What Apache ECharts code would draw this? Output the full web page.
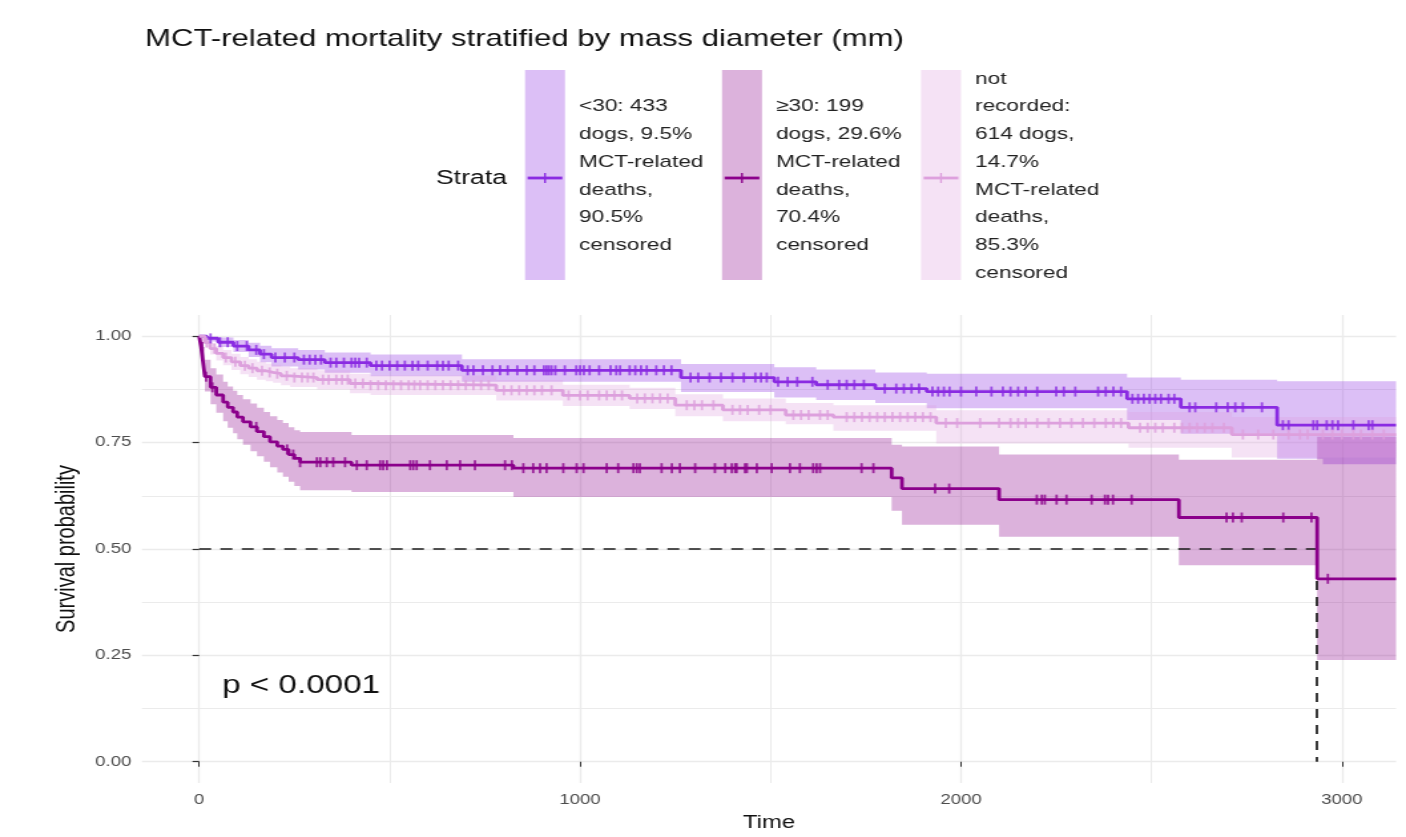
<!DOCTYPE html>
<html>
<head>
<meta charset="utf-8">
<script src="https://cdn.jsdelivr.net/npm/echarts@6/dist/echarts.min.js"></script>
<style>
html,body{margin:0;padding:0;background:#fff;overflow:hidden;}
#wrap{width:1406px;height:837px;overflow:hidden;position:relative;}
#chart{width:1057px;height:837px;transform:scaleX(1.33018);transform-origin:0 0;}
</style>
</head>
<body>
<div id="wrap"><div id="chart"></div></div>
<script>
// ---------------- DATA ----------------
const titleText = 'MCT-related mortality stratified by mass diameter (mm)';
const legendTitle = 'Strata';
const strataLabels = [
  '<30: 433\ndogs, 9.5%\nMCT-related\ndeaths,\n90.5%\ncensored',
  '\u226530: 199\ndogs, 29.6%\nMCT-related\ndeaths,\n70.4%\ncensored',
  'not\nrecorded:\n614 dogs,\n14.7%\nMCT-related\ndeaths,\n85.3%\ncensored'
];
const pValueText = 'p < 0.0001';
const xTitle = 'Time';
const yTitle = 'Survival probability';
const xTicks = [0, 1000, 2000, 3000];
const xMinorTicks = [500, 1500, 2500];
const yTicks = [0, 0.25, 0.5, 0.75, 1];
const yMinorTicks = [0.125, 0.375, 0.625, 0.875];

// <30
const lt30Time  = [0, 20, 50, 90, 130, 160, 190, 260, 330, 450, 690, 1265, 1510, 1620, 1775, 1910, 2436, 2577, 2830, 2950, 3142];
const lt30Surv  = [1.000, 0.995, 0.986, 0.977, 0.968, 0.958, 0.950, 0.945, 0.938, 0.931, 0.920, 0.903, 0.893, 0.886, 0.877, 0.870, 0.853, 0.833, 0.791, 0.791, 0.791];
const lt30Upper = [1.000, 1.000, 0.997, 0.991, 0.985, 0.978, 0.972, 0.968, 0.962, 0.957, 0.946, 0.935, 0.927, 0.922, 0.915, 0.912, 0.903, 0.898, 0.894, 0.894, 0.894];
const lt30Lower = [1.000, 0.988, 0.975, 0.963, 0.951, 0.939, 0.929, 0.922, 0.914, 0.906, 0.893, 0.869, 0.856, 0.850, 0.843, 0.831, 0.803, 0.771, 0.712, 0.699, 0.699];
const lt30Censor = [30, 55, 75, 100, 125, 150, 170, 200, 225, 250, 275, 290, 305, 320, 345, 360, 380, 400, 410, 420, 440, 465, 480, 500, 520, 540, 560, 575, 600, 625, 640, 655, 680, 705, 720, 745, 770, 790, 810, 835, 860, 880, 905, 912, 918, 925, 935, 960, 990, 1000, 1010, 1025, 1050, 1080, 1095, 1105, 1130, 1145, 1160, 1175, 1200, 1220, 1240, 1290, 1310, 1340, 1370, 1400, 1430, 1460, 1475, 1490, 1520, 1545, 1570, 1610, 1650, 1680, 1700, 1720, 1745, 1800, 1830, 1850, 1870, 1890, 1925, 1940, 1955, 1970, 2000, 2040, 2080, 2110, 2130, 2150, 2170, 2200, 2250, 2270, 2300, 2360, 2380, 2400, 2420, 2450, 2465, 2480, 2495, 2510, 2525, 2545, 2560, 2600, 2615, 2670, 2700, 2720, 2740, 2790, 2845, 2860, 2925, 2935, 2960, 2975, 2990, 3030, 3070, 3080];

// >=30
const ge30Time  = [0, 5, 10, 15, 30, 45, 63, 75, 89, 100, 115, 135, 152, 170, 186, 205, 220, 235, 250, 265, 400, 825, 1818, 1845, 2100, 2572, 2935, 3142];
const ge30Surv  = [1.000, 0.975, 0.940, 0.905, 0.880, 0.862, 0.845, 0.833, 0.822, 0.810, 0.799, 0.787, 0.776, 0.764, 0.752, 0.742, 0.734, 0.722, 0.713, 0.704, 0.697, 0.690, 0.667, 0.642, 0.616, 0.574, 0.430, 0.430];
const ge30Upper = [1.000, 1.000, 0.975, 0.945, 0.925, 0.910, 0.893, 0.882, 0.872, 0.862, 0.852, 0.842, 0.832, 0.822, 0.812, 0.803, 0.796, 0.786, 0.779, 0.775, 0.768, 0.761, 0.745, 0.741, 0.722, 0.710, 0.764, 0.764];
const ge30Lower = [1.000, 0.955, 0.910, 0.870, 0.840, 0.820, 0.800, 0.785, 0.772, 0.758, 0.745, 0.730, 0.718, 0.705, 0.692, 0.680, 0.670, 0.658, 0.648, 0.638, 0.634, 0.622, 0.590, 0.557, 0.529, 0.462, 0.239, 0.239];
const ge30Censor = [8, 18, 35, 150, 231, 247, 265, 309, 318, 335, 352, 383, 414, 440, 475, 483, 493, 554, 562, 571, 606, 650, 685, 724, 803, 821, 851, 877, 895, 912, 956, 991, 1009, 1070, 1100, 1140, 1149, 1157, 1214, 1241, 1262, 1302, 1354, 1381, 1398, 1407, 1411, 1433, 1438, 1464, 1503, 1551, 1577, 1612, 1621, 1630, 1739, 1770, 1932, 1969, 2199, 2212, 2220, 2251, 2277, 2343, 2378, 2386, 2399, 2448, 2697, 2714, 2737, 2846, 2920, 2963];

// not recorded
const nrTime  = [0, 15, 29, 45, 63, 85, 108, 130, 152, 175, 194, 215, 239, 310, 396, 450, 780, 955, 1130, 1250, 1375, 1540, 1665, 1935, 2440, 2711, 3142];
const nrSurv  = [1.000, 0.985, 0.971, 0.960, 0.950, 0.940, 0.931, 0.925, 0.919, 0.915, 0.912, 0.907, 0.903, 0.898, 0.889, 0.885, 0.873, 0.861, 0.854, 0.838, 0.827, 0.815, 0.810, 0.796, 0.785, 0.769, 0.769];
const nrUpper = [1.000, 0.995, 0.985, 0.977, 0.968, 0.959, 0.951, 0.946, 0.940, 0.936, 0.933, 0.929, 0.925, 0.920, 0.912, 0.908, 0.897, 0.886, 0.879, 0.864, 0.854, 0.843, 0.838, 0.826, 0.822, 0.810, 0.810];
const nrLower = [1.000, 0.975, 0.957, 0.943, 0.932, 0.921, 0.911, 0.904, 0.898, 0.894, 0.891, 0.885, 0.881, 0.875, 0.866, 0.862, 0.849, 0.836, 0.829, 0.812, 0.800, 0.793, 0.778, 0.748, 0.738, 0.715, 0.715];
const nrCensor = [20, 40, 70, 95, 120, 140, 165, 185, 205, 230, 250, 270, 285, 300, 325, 340, 360, 375, 390, 410, 430, 450, 470, 490, 510, 530, 550, 565, 580, 600, 620, 640, 660, 680, 700, 720, 740, 760, 800, 820, 840, 860, 880, 900, 925, 970, 1000, 1020, 1050, 1070, 1090, 1110, 1150, 1170, 1190, 1210, 1230, 1280, 1300, 1320, 1350, 1400, 1420, 1440, 1470, 1500, 1560, 1580, 1600, 1630, 1650, 1700, 1720, 1740, 1760, 1780, 1800, 1820, 1840, 1860, 1880, 1900, 1920, 1960, 1990, 2050, 2100, 2130, 2150, 2170, 2200, 2230, 2260, 2290, 2320, 2350, 2380, 2400, 2420, 2470, 2490, 2510, 2530, 2560, 2580, 2600, 2620, 2640, 2660, 2690, 2740, 2780, 2820, 2860, 2890, 2910, 2950, 2975, 3000, 3030, 3050, 3080, 3110];

// ---------------- STYLE ----------------
const FONT = 'Liberation Sans, Arial, Helvetica, sans-serif';
const lineColors = ['#8A2BE2', '#8B008B', '#DDA0DD'];
const bandColors = ['rgba(138,43,226,0.3)', 'rgba(139,0,139,0.3)', 'rgba(221,160,221,0.3)'];
const S = 1406 / 1057; // horizontal stretch of the reference

const groups = [
  {t: lt30Time, s: lt30Surv, u: lt30Upper, l: lt30Lower, c: lt30Censor},
  {t: ge30Time, s: ge30Surv, u: ge30Upper, l: ge30Lower, c: ge30Censor},
  {t: nrTime,   s: nrSurv,   u: nrUpper,   l: nrLower,   c: nrCensor}
];

function stepAt(ts, ss, x) {
  let v = ss[0];
  for (let i = 0; i < ts.length; i++) { if (ts[i] <= x) v = ss[i]; else break; }
  return v;
}
// median of the >=30 group: first time its survival falls to 0.5 or below
let medianTime = null;
for (let i = 0; i < ge30Time.length; i++) { if (ge30Surv[i] <= 0.5) { medianTime = ge30Time[i]; break; } }

const series = [];
// confidence bands: one step-shaped polygon per stratum, placed with api.coord
groups.forEach((g, k) => {
  series.push({
    type: 'custom', z: 1, silent: true,
    xAxisIndex: 0, yAxisIndex: 0,
    encode: {x: 0, y: [1, 2]},
    data: g.t.map((x, i) => [x, g.l[i], g.u[i]]),
    renderItem: function (params, api) {
      if (params.dataIndex !== 0) return null;
      const n = g.t.length;
      const pts = [];
      for (let i = 0; i < n; i++) {
        const x0 = g.t[i], x1 = i + 1 < n ? g.t[i + 1] : g.t[i];
        pts.push(api.coord([x0, g.u[i]]));
        pts.push(api.coord([x1, g.u[i]]));
      }
      for (let i = n - 1; i >= 0; i--) {
        const x0 = g.t[i], x1 = i + 1 < n ? g.t[i + 1] : g.t[i];
        pts.push(api.coord([x1, g.l[i]]));
        pts.push(api.coord([x0, g.l[i]]));
      }
      return {type: 'polygon', shape: {points: pts}, style: {fill: bandColors[k]}};
    }
  });
});
groups.forEach((g, k) => {
  const s = {
    type: 'line', step: 'end', symbol: 'none', z: 3, silent: true,
    xAxisIndex: 0, yAxisIndex: 0,
    lineStyle: {color: lineColors[k], width: 2.8},
    data: g.t.map((x, i) => [x, g.s[i]])
  };
  if (k === 1 && medianTime !== null) {
    s.markLine = {
      silent: true, symbol: ['none', 'none'], label: {show: false}, z: 2,
      lineStyle: {color: '#1a1a1a', type: [9, 7], width: 1.7},
      data: [
        [{coord: [0, 0.5]}, {coord: [medianTime, 0.5]}],
        [{coord: [medianTime, 0.5]}, {coord: [medianTime, 0]}]
      ]
    };
  }
  series.push(s);
});
groups.forEach((g, k) => {
  series.push({
    type: 'scatter', symbol: 'rect', symbolSize: [1.8, 10], z: 4, silent: true,
    xAxisIndex: 0, yAxisIndex: 0,
    itemStyle: {color: lineColors[k]},
    data: g.c.map(x => [x, stepAt(g.t, g.s, x)])
  });
});

// legend drawn as graphics (tall keys like ggplot)
const graphics = [];
graphics.push({type: 'text', x: 436 / S, y: 178, style: {text: legendTitle, fontSize: 20, fontFamily: FONT, fill: '#111', verticalAlign: 'middle'}});
strataLabels.forEach((lab, k) => {
  const rx = [525, 722, 921][k] / S;
  graphics.push({type: 'rect', shape: {x: rx, y: 70, width: 40 / S, height: 210}, style: {fill: bandColors[k]}});
  graphics.push({type: 'line', shape: {x1: rx + 2, y1: 178, x2: rx + 40 / S - 2, y2: 178}, style: {stroke: lineColors[k], lineWidth: 2.8}});
  graphics.push({type: 'line', shape: {x1: rx + 20 / S, y1: 173, x2: rx + 20 / S, y2: 183}, style: {stroke: lineColors[k], lineWidth: 1.4}});
  graphics.push({type: 'text', x: rx + 54 / S, y: 176, style: {text: lab, fontSize: 17, lineHeight: 27.7, fontFamily: FONT, fill: '#222', verticalAlign: 'middle'}});
});
graphics.push({type: 'text', x: 222 / S, y: 686, style: {text: pValueText, fontSize: 25, fontFamily: FONT, fill: '#111', verticalAlign: 'middle'}});

const gridLineColor = '#ebebeb';
const option = {
  animation: false,
  backgroundColor: '#ffffff',
  textStyle: {fontFamily: FONT},
  title: {text: titleText, left: 145 / S, top: 28, padding: 0,
    textStyle: {fontSize: 23.4, fontWeight: 'normal', color: '#111', fontFamily: FONT}},
  grid: {left: 142 / S, right: 1057 - 1396 / S, top: 315, bottom: 50, containLabel: false},
  xAxis: [
    {type: 'value', min: -150, max: 3142,
      axisLine: {show: false},
      axisTick: {show: true, length: 5, customValues: xTicks, lineStyle: {color: '#333', width: 1}},
      axisLabel: {customValues: xTicks, color: '#4d4d4d', fontSize: 14, margin: 10, fontFamily: FONT,
        formatter: v => String(Math.round(v))},
      splitLine: {show: true, lineStyle: {color: gridLineColor, width: 1.3}},
      name: xTitle, nameLocation: 'middle', nameGap: 31,
      nameTextStyle: {fontSize: 18, color: '#111', fontFamily: FONT}},
    {type: 'value', min: -150, max: 3142, position: 'bottom',
      axisLine: {show: false}, axisTick: {show: false, customValues: xMinorTicks},
      axisLabel: {show: false, customValues: xMinorTicks},
      splitLine: {show: true, lineStyle: {color: gridLineColor, width: 1}}}
  ],
  yAxis: [
    {type: 'value', min: -0.05, max: 1.05,
      axisLine: {show: false},
      axisTick: {show: true, length: 5, customValues: yTicks, lineStyle: {color: '#333', width: 1.2}},
      axisLabel: {customValues: yTicks, color: '#4d4d4d', fontSize: 14, margin: 8, fontFamily: FONT,
        formatter: v => Number(v).toFixed(2)},
      splitLine: {show: true, lineStyle: {color: gridLineColor, width: 1.3}},
      name: yTitle, nameLocation: 'middle', nameGap: 40,
      nameTextStyle: {fontSize: 20, color: '#111', fontFamily: FONT}},
    {type: 'value', min: -0.05, max: 1.05, position: 'left',
      axisLine: {show: false}, axisTick: {show: false, customValues: yMinorTicks},
      axisLabel: {show: false, customValues: yMinorTicks},
      splitLine: {show: true, lineStyle: {color: gridLineColor, width: 1}}}
  ],
  graphic: graphics,
  series: series
};

const chart = echarts.init(document.getElementById('chart'), null, {renderer: 'canvas', width: 1057, height: 837});
chart.setOption(option);
</script>
</body>
</html>
